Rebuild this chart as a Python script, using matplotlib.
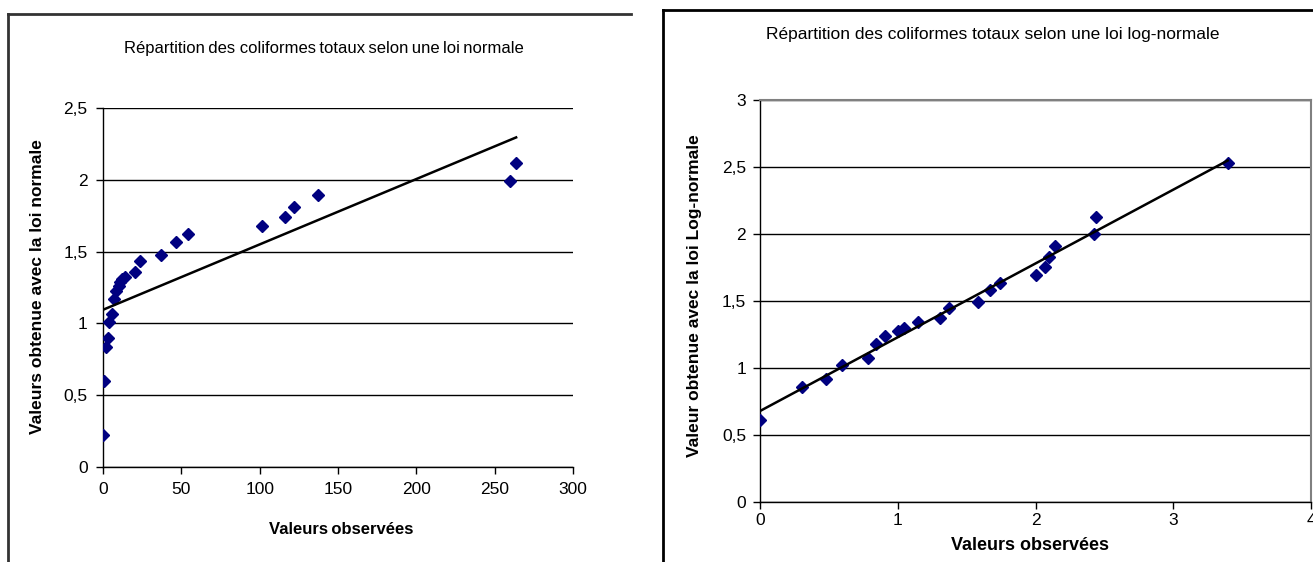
import numpy as np
import matplotlib.pyplot as plt
from matplotlib.lines import Line2D
from matplotlib.ticker import FuncFormatter

plt.rcParams['font.family'] = ['Liberation Sans', 'DejaVu Sans']

# Loi normale : valeurs observées / valeurs théoriques
obs_normale = [0, 0.9, 1.7, 3.4, 4.1, 6.0, 7.1, 8.2, 9.9, 11.0, 12.0, 14.2,
               20.3, 23.3, 37.3, 46.6, 54.5, 101.7, 116.0, 122.0, 137.3,
               259.6, 263.7]
theo_normale = [0.22, 0.60, 0.835, 0.90, 1.007, 1.065, 1.17, 1.228, 1.26,
                1.29, 1.31, 1.325, 1.36, 1.437, 1.479, 1.57, 1.623, 1.681,
                1.744, 1.814, 1.895, 1.995, 2.114]

# Loi log-normale : log des valeurs observées / valeurs théoriques
obs_lognormale = [0, 0.303, 0.48, 0.595, 0.782, 0.843, 0.906, 1.0, 1.043,
                  1.15, 1.31, 1.371, 1.58, 1.668, 1.743, 2.006, 2.07, 2.097,
                  2.144, 2.427, 2.437, 3.395]
theo_lognormale = [0.61, 0.856, 0.918, 1.025, 1.078, 1.182, 1.239, 1.279,
                   1.301, 1.341, 1.371, 1.445, 1.496, 1.58, 1.634, 1.694,
                   1.754, 1.828, 1.908, 1.998, 2.127, 2.533]

xticks_normale = [0, 50, 100, 150, 200, 250, 300]
yticks_normale = [0, 0.5, 1, 1.5, 2, 2.5]
xticks_log = [0, 1, 2, 3, 4]
yticks_log = [0, 0.5, 1, 1.5, 2, 2.5, 3]

W, H = 1313, 562
MARKER_COLOR = '#000080'


def virgule(v, pos):
    return f"{v:g}".replace('.', ',')


def px_rect(x0, x1, y_top, y_bot):
    # pixels -> fraction de figure
    return [x0 / W, 1 - y_bot / H, (x1 - x0) / W, (y_bot - y_top) / H]


def trace_nuage(ax, x, y, xticks, yticks, xpad, ypad):
    x = np.array(x)
    y = np.array(y)
    ax.plot(x, y, linestyle='none', marker='D', markersize=6.5,
            color=MARKER_COLOR, markeredgecolor=MARKER_COLOR, zorder=3)
    # droite de tendance (moindres carrés)
    a, b = np.polyfit(x, y, 1)
    xs = np.array([x.min(), x.max()])
    ax.plot(xs, a * xs + b, color='black', linewidth=1.8, zorder=4)

    ax.set_xlim(xticks[0], xticks[-1])
    ax.set_ylim(yticks[0], yticks[-1])
    ax.set_xticks(xticks)
    ax.set_yticks(yticks)
    ax.xaxis.set_major_formatter(FuncFormatter(virgule))
    ax.yaxis.set_major_formatter(FuncFormatter(virgule))
    ax.tick_params(axis='both', direction='out', length=5, width=1,
                   color='black', labelsize=12.5)
    ax.tick_params(axis='x', pad=xpad)
    ax.tick_params(axis='y', pad=ypad)
    ax.yaxis.grid(True, color='black', linewidth=1)
    ax.set_axisbelow(True)
    for s in ('left', 'bottom'):
        ax.spines[s].set_color('black')
        ax.spines[s].set_linewidth(1)


fig = plt.figure(figsize=(W / 100, H / 100), dpi=100)

# cadres des deux graphiques
fig.add_artist(Line2D([7.5 / W, 7.5 / W], [1 - 14 / H, 0], color='#333333', lw=2))
fig.add_artist(Line2D([7.5 / W, 631 / W], [1 - 14 / H, 1 - 14 / H], color='#333333', lw=2))
fig.add_artist(Line2D([663 / W, 663 / W], [1 - 10 / H, 0], color='black', lw=2))
fig.add_artist(Line2D([663 / W, 1 + 5 / W], [1 - 10 / H, 1 - 10 / H], color='black', lw=2))

# graphique loi normale
ax1 = fig.add_axes(px_rect(103, 573, 108, 467))
trace_nuage(ax1, obs_normale, theo_normale, xticks_normale, yticks_normale, 6, 6)
ax1.spines['top'].set_visible(False)
ax1.spines['right'].set_visible(False)

fig.text(324 / W, 1 - 48 / H,
         'Répartition\u2009des coliformes\u2009totaux\u2009selon\u2009une\u2009loi\u2009normale',
         ha='center', va='center', fontsize=12)
fig.text(341 / W, 1 - 529 / H, 'Valeurs\u2009observées', ha='center', va='center',
         fontsize=12, fontweight='bold')
fig.text(38 / W, 1 - 287 / H, 'Valeurs obtenue avec la loi normale', ha='center',
         va='center', rotation=90, fontsize=12.5, fontweight='bold')

# graphique loi log-normale
ax2 = fig.add_axes(px_rect(760, 1311, 100, 502))
trace_nuage(ax2, obs_lognormale, theo_lognormale, xticks_log, yticks_log, 3, 5)
for s in ('top', 'right'):
    ax2.spines[s].set_color('#808080')
    ax2.spines[s].set_linewidth(1.5)

fig.text(993 / W, 1 - 35 / H,
         'Répartition des coliformes totaux selon une loi log-normale',
         ha='center', va='center', fontsize=12.5)
fig.text(1030 / W, 1 - 545 / H, 'Valeurs observées', ha='center', va='center',
         fontsize=13, fontweight='bold')
fig.text(694 / W, 1 - 296 / H, 'Valeur obtenue avec la loi Log-normale', ha='center',
         va='center', rotation=90, fontsize=12.5, fontweight='bold')

fig.savefig('out.png', dpi=100)
